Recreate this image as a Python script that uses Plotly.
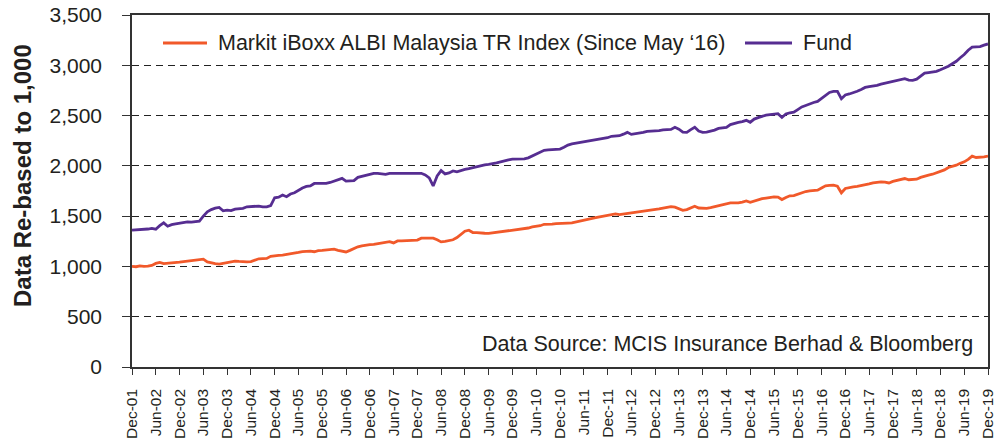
import plotly.graph_objects as go

fund = [
    1360, 1362, 1365, 1370, 1372, 1378, 1370, 1405, 1433, 1400, 1415, 1422,
    1430, 1436, 1443, 1440, 1448, 1450, 1500, 1543, 1565, 1580, 1587, 1553,
    1560, 1555, 1570, 1575, 1577, 1593, 1595, 1600, 1600, 1593, 1592, 1605,
    1683, 1688, 1710, 1693, 1720, 1733, 1760, 1780, 1795, 1800, 1825, 1826,
    1826, 1826, 1835, 1850, 1868, 1876, 1848, 1852, 1853, 1886, 1895, 1903,
    1915, 1926, 1926, 1920, 1916, 1926, 1926, 1926, 1926, 1926, 1926, 1926,
    1926, 1926, 1910, 1880, 1800, 1900, 1953, 1920, 1930, 1950, 1940, 1955,
    1965, 1972, 1983, 1992, 2000, 2010, 2015, 2019, 2030, 2040, 2052, 2060,
    2066, 2066, 2066, 2070, 2080, 2099, 2125, 2142, 2155, 2158, 2159, 2163,
    2167, 2185, 2207, 2218, 2225, 2230, 2235, 2240, 2250, 2260, 2266, 2273,
    2280, 2294, 2298, 2300, 2315, 2333, 2313, 2318, 2323, 2333, 2343, 2344,
    2346, 2350, 2357, 2359, 2362, 2383, 2365, 2335, 2333, 2360, 2383, 2346,
    2333, 2336, 2342, 2355, 2372, 2381, 2383, 2410, 2425, 2433, 2440, 2453,
    2433, 2465, 2480, 2495, 2505, 2510, 2515, 2519, 2481, 2515, 2528, 2533,
    2560, 2586, 2600, 2618, 2630, 2641, 2670, 2700, 2730, 2740, 2740, 2668,
    2705, 2715, 2727, 2742, 2760, 2780, 2788, 2793, 2800, 2812, 2820, 2830,
    2838, 2843, 2855, 2866, 2852, 2850, 2862, 2895, 2922, 2928, 2934, 2940,
    2955, 2970, 2990, 3015, 3040, 3075, 3107, 3150, 3180, 3184, 3186, 3200,
    3212,
]

index = [
    1000, 997, 1005, 1000, 1003, 1010, 1030, 1040, 1028, 1030, 1035, 1040,
    1042, 1048, 1052, 1056, 1062, 1070, 1073, 1045, 1035, 1028, 1023, 1030,
    1036, 1045, 1053, 1050, 1046, 1046, 1048, 1062, 1076, 1078, 1080, 1100,
    1107, 1111, 1113, 1118, 1123, 1132, 1140, 1148, 1152, 1153, 1146, 1157,
    1160, 1163, 1166, 1172, 1160, 1150, 1144, 1160, 1180, 1195, 1204, 1212,
    1216, 1220, 1226, 1236, 1244, 1247, 1234, 1254, 1255, 1256, 1261, 1262,
    1262, 1281, 1282, 1281, 1281, 1265, 1244, 1250, 1257, 1265, 1287, 1320,
    1350, 1360, 1337, 1337, 1337, 1330, 1328, 1333, 1340, 1346, 1348, 1352,
    1360, 1365, 1370, 1377, 1382, 1393, 1398, 1405, 1419, 1416, 1420, 1426,
    1425, 1428, 1430, 1432, 1442, 1452, 1462, 1472, 1478, 1485, 1493, 1500,
    1507, 1515, 1522, 1515, 1520, 1525, 1532, 1540, 1543, 1545, 1555, 1560,
    1565, 1572, 1580, 1590, 1595, 1590, 1575, 1558, 1565, 1585, 1598, 1581,
    1580, 1578, 1585, 1595, 1602, 1611, 1620, 1631, 1631, 1631, 1640, 1651,
    1638, 1652, 1665, 1674, 1680, 1688, 1692, 1690, 1665, 1685, 1702, 1705,
    1720, 1735, 1745, 1751, 1755, 1758, 1780, 1801, 1805, 1808, 1798, 1732,
    1775, 1785, 1791, 1795, 1801, 1812, 1820, 1830, 1835, 1841, 1838, 1830,
    1845, 1857, 1865, 1874, 1862, 1861, 1867, 1885, 1900, 1908, 1917, 1930,
    1940, 1960, 1984, 1995, 2007, 2025, 2040, 2065, 2097, 2083, 2085, 2090,
    2097,
]

tick_labels = [
    "Dec-01", "Jun-02", "Dec-02", "Jun-03", "Dec-03", "Jun-04", "Dec-04",
    "Jun-05", "Dec-05", "Jun-06", "Dec-06", "Jun-07", "Dec-07", "Jun-08",
    "Dec-08", "Jun-09", "Dec-09", "Jun-10", "Dec-10", "Jun-11", "Dec-11",
    "Jun-12", "Dec-12", "Jun-13", "Dec-13", "Jun-14", "Dec-14", "Jun-15",
    "Dec-15", "Jun-16", "Dec-16", "Jun-17", "Dec-17", "Jun-18", "Dec-18",
    "Jun-19", "Dec-19",
]

index_name = "Markit iBoxx ALBI Malaysia TR Index (Since May \u201816)"
fund_name = "Fund"
source_text = "Data Source: MCIS Insurance Berhad & Bloomberg"
y_title = "Data Re-based to 1,000"

ORANGE = "#F1592A"
PURPLE = "#562D91"
TEXT = "#231F20"
FONT = "Liberation Sans, Arial, Helvetica, sans-serif"

months = list(range(len(fund)))
tick_vals = months[::6]

fig = go.Figure()
fig.add_trace(go.Scatter(x=months, y=index, mode="lines", name=index_name,
                         line=dict(color=ORANGE, width=2.8), showlegend=False))
fig.add_trace(go.Scatter(x=months, y=fund, mode="lines", name=fund_name,
                         line=dict(color=PURPLE, width=2.8), showlegend=False))

# The page body has an 8px margin, so the figure starts at (8, 8) on screen.
OFF = 8
PL, PR, PT, PB = 132, 988, 15, 367       # plot area in screen pixels
W, H = 1000, 437
L, T = PL - OFF, PT - OFF
R = W - (PR - OFF)
B = H - (PB - OFF)


def px(xp):
    return (xp - PL) / (PR - PL)


def py(yp):
    return (PB - yp) / (PB - PT)


# manual legend
leg_y = py(43)
for (x0, x1, tx, name, col) in [(163, 207, 216, index_name, ORANGE),
                                (745, 792, 801, fund_name, PURPLE)]:
    fig.add_shape(type="line", xref="paper", yref="paper",
                  x0=px(x0), x1=px(x1), y0=leg_y, y1=leg_y,
                  line=dict(color=col, width=2.8))
    fig.add_annotation(xref="paper", yref="paper", x=px(tx), y=leg_y,
                       text=name, showarrow=False, xanchor="left",
                       yanchor="middle", font=dict(size=21.5, color=TEXT))

fig.add_annotation(xref="paper", yref="paper", x=px(975), y=py(344),
                   text=source_text, showarrow=False, xanchor="right",
                   yanchor="middle", font=dict(size=21.5, color=TEXT))

fig.add_annotation(xref="paper", yref="paper", x=px(22), y=py(176),
                   text="<b>" + y_title + "</b>", showarrow=False,
                   textangle=-90, xanchor="center", yanchor="middle",
                   font=dict(size=24, color=TEXT))

fig.update_layout(
    width=W, height=H,
    margin=dict(l=L, r=R, t=T, b=B, autoexpand=False),
    paper_bgcolor="white", plot_bgcolor="white",
    font=dict(family=FONT, color=TEXT),
)
fig.update_xaxes(
    range=[0, len(fund) - 1], tickvals=tick_vals, ticktext=tick_labels,
    tickangle=-90, tickfont=dict(size=15.5, color=TEXT),
    ticks="outside", ticklen=6, tickcolor="#333", tickwidth=1.2,
    showline=True, linecolor="#333", linewidth=1.5, mirror=True,
    showgrid=False, zeroline=False, ticklabelstandoff=8, automargin=False,
    ticklabeloverflow="allow",
)
fig.update_yaxes(
    range=[0, 3500], dtick=500, tickformat=",", tickfont=dict(size=21, color=TEXT),
    ticks="outside", ticklen=8, tickcolor="#333", tickwidth=1.2,
    showline=True, linecolor="#333", linewidth=1.5, mirror=True,
    showgrid=True, gridcolor="#222", gridwidth=1, griddash="7px,5px",
    zeroline=False, ticklabelstandoff=16, automargin=False,
    ticklabeloverflow="allow",
)

fig.write_html("out.html")
